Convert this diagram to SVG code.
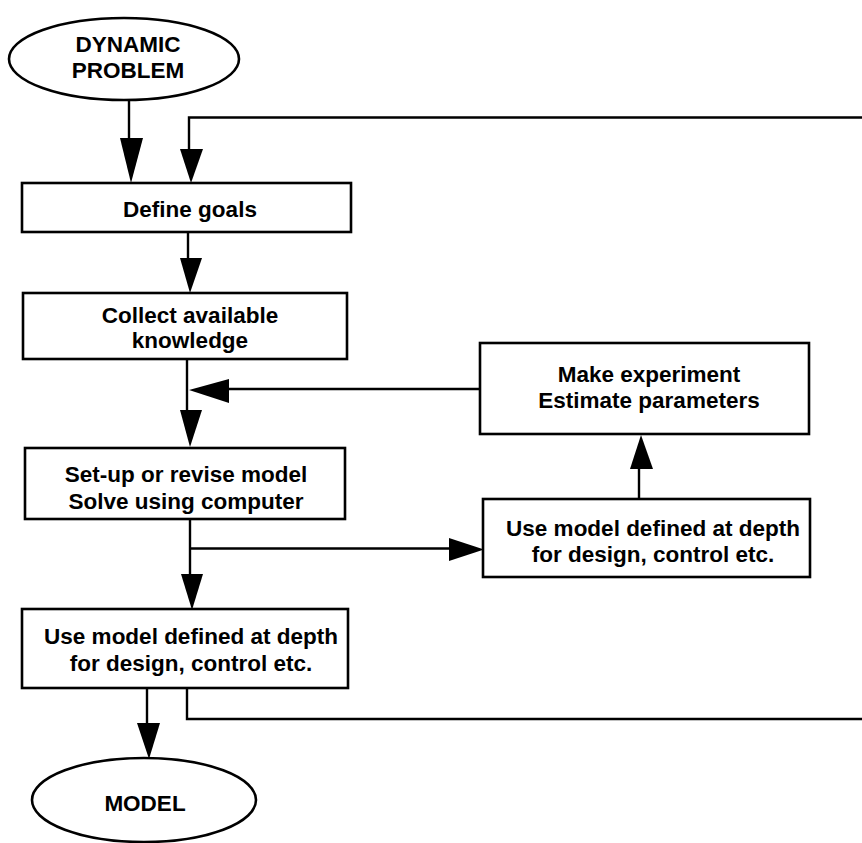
<svg xmlns="http://www.w3.org/2000/svg" width="862" height="843" viewBox="0 0 862 843">
<style>
  .node { fill: #fff; stroke: #000; stroke-width: 2.6; }
  .lbl { font-family: "Liberation Sans", Arial, Helvetica, sans-serif; font-weight: bold; font-size: 22.5px; fill: #000; text-anchor: middle; }
  .conn { fill: none; stroke: #000; stroke-width: 2.4; }
  .head { fill: #000; stroke: none; }
</style>
<rect width="862" height="843" fill="#fff"/>
<g id="connectors">
  <!-- Dynamic problem -> Define goals -->
  <line class="conn" x1="129" y1="100" x2="129" y2="145"/>
  <polygon class="head" points="120,138 143,138 131,183"/>
  <!-- feedback from bottom Use model back to Define goals -->
  <path class="conn" d="M187,688 V719 H863"/>
  <path class="conn" d="M863,117.5 H189 V155"/>
  <polygon class="head" points="180,149 203,149 191,183"/>
  <!-- Define goals -> Collect -->
  <line class="conn" x1="188" y1="232" x2="188" y2="262"/>
  <polygon class="head" points="180,258 202,258 190,293"/>
  <!-- Collect -> Set-up -->
  <line class="conn" x1="187" y1="359" x2="187" y2="414"/>
  <polygon class="head" points="180,410 202,410 190,447"/>
  <!-- Make experiment -> junction -->
  <line class="conn" x1="480" y1="389" x2="225" y2="389"/>
  <polygon class="head" points="229,379 229,403 189,390"/>
  <!-- Set-up -> Use model (left) -->
  <line class="conn" x1="190" y1="519" x2="190" y2="578"/>
  <polygon class="head" points="181,574 203,574 192,610"/>
  <!-- branch -> Use model (right) -->
  <line class="conn" x1="190" y1="548.5" x2="452" y2="548.5"/>
  <polygon class="head" points="449,538 449,561 484,549.5"/>
  <!-- Use model (right) -> Make experiment -->
  <line class="conn" x1="639" y1="499" x2="639" y2="465"/>
  <polygon class="head" points="630,469 653,469 641,435"/>
  <!-- Use model (left) -> MODEL -->
  <line class="conn" x1="147" y1="688" x2="147" y2="727"/>
  <polygon class="head" points="137,723 160,723 149,759"/>
</g>
<g id="dynamic-problem">
  <ellipse class="node" cx="124" cy="59" rx="115" ry="41"/>
  <text class="lbl" x="128" y="52">DYNAMIC</text>
  <text class="lbl" x="128" y="78">PROBLEM</text>
</g>
<g id="define-goals">
  <rect class="node" x="22" y="183" width="329" height="49"/>
  <text class="lbl" x="190" y="217">Define goals</text>
</g>
<g id="collect-knowledge">
  <rect class="node" x="23" y="293" width="324" height="66"/>
  <text class="lbl" x="190" y="323">Collect available</text>
  <text class="lbl" x="190" y="348">knowledge</text>
</g>
<g id="make-experiment">
  <rect class="node" x="480" y="343" width="329" height="91"/>
  <text class="lbl" x="649" y="382">Make experiment</text>
  <text class="lbl" x="649" y="408">Estimate parameters</text>
</g>
<g id="setup-model">
  <rect class="node" x="25" y="448" width="320" height="71"/>
  <text class="lbl" x="186" y="482">Set-up or revise model</text>
  <text class="lbl" x="186" y="509">Solve using computer</text>
</g>
<g id="use-model-right">
  <rect class="node" x="483" y="499" width="327" height="78"/>
  <text class="lbl" x="653" y="536">Use model defined at depth</text>
  <text class="lbl" x="653" y="562">for design, control etc.</text>
</g>
<g id="use-model-left">
  <rect class="node" x="22" y="609" width="326" height="79"/>
  <text class="lbl" x="191" y="644">Use model defined at depth</text>
  <text class="lbl" x="191" y="671">for design, control etc.</text>
</g>
<g id="model">
  <ellipse class="node" cx="144" cy="800" rx="112" ry="42"/>
  <text class="lbl" x="145" y="811">MODEL</text>
</g>
</svg>
